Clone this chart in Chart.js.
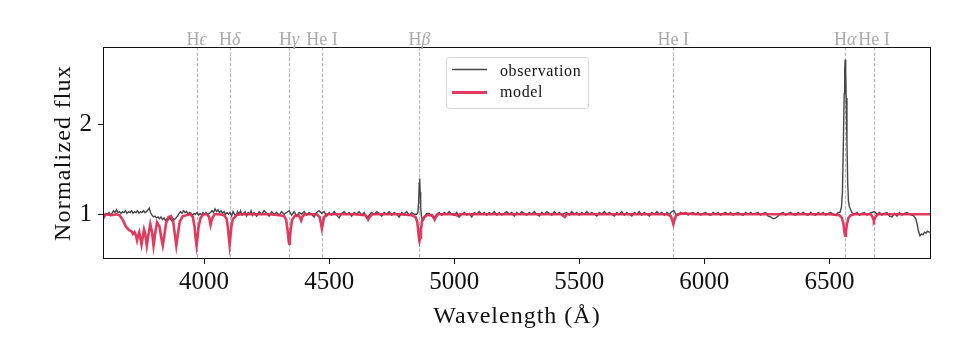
<!DOCTYPE html>
<html lang="en">
<head>
    <meta charset="UTF-8">
    <title>Spectrum with model</title>
    <script src="https://cdn.jsdelivr.net/npm/chart.js"></script>
    <style>
        body { margin: 0; background: #fff; }
        canvas { display: block; }
    </style>
</head>
<body>
    <canvas id="spectrum" width="960" height="360" style="width:960px;height:360px;"></canvas>

    <script>
        // wavelength (Å), normalized flux
        const observation = [
            [3596,1.00],[3602,0.98],[3608,1.01],[3614,1.00],[3620,1.02],[3626,0.99],[3632,1.01],[3638,1.04],[3644,1.02],[3650,1.05],
            [3656,1.02],[3662,1.03],[3668,1.01],[3674,1.03],[3680,1.02],[3686,1.04],[3692,1.01],[3698,1.03],
            [3704,1.02],[3710,1.04],[3716,1.01],[3722,1.03],[3728,1.02],[3734,1.04],[3740,1.01],[3746,1.03],[3752,1.02],[3758,1.04],
            [3764,1.02],[3770,1.03],[3776,1.05],[3781,1.07],[3786,1.02],[3792,0.99],[3798,0.97],
            [3804,0.98],[3810,0.96],[3816,0.97],[3822,0.95],[3828,0.97],[3834,0.94],[3840,0.96],[3846,0.93],[3852,0.95],[3858,0.94],
            [3864,0.96],[3870,0.93],[3876,0.95],[3882,0.94],[3888,0.96],[3894,0.98],
            [3900,1.01],[3906,1.03],[3912,1.01],[3918,1.04],[3924,1.02],[3930,1.03],[3936,1.00],[3942,1.02],[3948,1.01],[3954,0.99],
            [3960,1.01],[3966,1.00],[3972,1.02],[3978,0.99],[3984,1.01],[3990,0.99],[3996,1.02],
            [4002,1.00],[4008,1.02],[4014,0.99],[4020,1.01],[4026,1.02],[4032,1.04],[4038,1.02],[4044,1.06],[4050,1.03],[4056,1.05],
            [4062,1.02],[4068,1.04],[4074,1.01],[4080,1.03],[4086,1.00],[4092,1.02],[4098,1.00],
            [4104,1.02],[4110,0.98],[4116,1.03],[4122,1.00],[4128,0.98],[4134,1.03],[4140,1.00],[4146,1.04],[4152,0.99],[4158,1.01],
            [4164,1.03],[4170,0.98],[4176,1.02],[4182,1.00],[4188,1.04],[4194,0.99],
            [4200,1.02],[4210,0.98],[4220,1.03],[4230,1.00],[4240,1.04],[4250,1.01],[4260,0.98],[4270,1.03],[4280,1.00],[4290,1.02],
            [4300,0.99],[4310,1.03],[4320,1.00],[4330,1.02],[4340,1.04],[4350,0.99],[4360,1.03],[4370,0.98],[4380,1.02],[4390,1.00],
            [4400,1.03],[4410,0.99],[4420,1.02],[4430,1.00],[4440,0.97],[4450,1.02],[4460,1.04],[4470,1.01],[4480,1.03],[4490,0.98],
            [4500,1.02],[4510,0.99],[4520,1.03],[4530,0.99],[4540,0.96],[4550,1.01],[4560,1.03],[4570,1.00],[4580,1.02],[4590,0.98],
            [4600,1.02],[4610,1.00],[4620,1.03],[4630,0.99],[4640,1.02],[4650,0.96],[4660,0.99],[4670,1.02],[4680,1.00],[4690,1.03],
            [4700,1.01],[4710,0.98],[4720,1.02],[4730,1.00],[4740,1.03],[4750,0.99],[4760,1.02],[4770,1.00],[4780,0.97],[4790,1.02],
            [4800,1.00],[4810,1.03],[4820,0.99],[4830,1.02],[4840,1.00],[4850,1.00],[4855,1.02],[4858,1.15],[4860,1.35],[4862,1.40],
            [4864,1.25],[4866,1.08],[4869,0.98],[4873,0.93],[4878,0.94],[4884,0.98],[4890,1.01],
            [4900,1.01],[4910,0.98],[4920,0.96],[4930,1.00],[4940,1.02],[4950,0.99],[4960,1.02],[4970,1.00],[4980,1.03],[4990,1.00],
            [5000,0.99],[5010,1.02],[5020,0.97],[5030,1.00],[5040,1.02],[5050,0.99],[5060,1.01],[5070,0.97],[5080,1.02],[5090,1.00],
            [5100,1.03],[5110,1.00],[5120,1.02],[5130,0.99],[5140,1.02],[5150,1.00],[5160,1.03],[5170,0.99],[5180,1.02],[5190,0.99],
            [5200,1.01],[5210,1.03],[5220,1.00],[5230,1.02],[5240,0.98],[5250,1.02],[5260,1.00],[5270,1.03],[5280,1.01],[5290,0.99],
            [5300,1.02],[5310,1.00],[5320,1.03],[5330,1.00],[5340,0.98],[5350,1.02],[5360,1.00],[5370,1.03],[5380,1.01],[5390,0.99],
            [5400,1.03],[5410,1.00],[5420,1.02],[5430,0.99],[5440,1.01],[5450,1.02],[5460,0.99],[5470,1.03],[5480,1.00],[5490,1.02],
            [5500,0.99],[5510,1.02],[5520,1.00],[5530,1.03],[5540,1.00],[5550,1.02],[5560,1.00],[5570,0.98],[5580,1.02],[5590,1.00],
            [5600,1.03],[5610,1.00],[5620,1.02],[5630,1.00],[5640,0.98],[5650,1.02],[5660,1.00],[5670,1.03],[5680,0.99],[5690,1.02],
            [5700,1.00],[5710,0.98],[5720,1.02],[5730,1.00],[5740,1.03],[5750,0.99],[5760,1.02],[5770,1.00],[5780,0.98],[5790,1.02],
            [5800,1.00],[5810,1.03],[5820,1.00],[5830,1.02],[5840,0.99],[5850,1.02],[5860,1.00],[5870,1.03],[5878,1.04],[5886,1.00],
            [5895,0.99],[5905,1.02],[5915,1.00],[5925,1.02],[5935,0.99],[5945,1.01],[5955,1.02],[5965,1.00],[5975,1.02],[5985,0.99],
            [5995,1.01],[6005,1.02],[6015,1.00],[6025,0.99],[6035,1.02],[6045,1.00],[6055,1.02],[6065,0.99],[6075,1.01],[6085,1.02],
            [6095,1.00],[6105,1.02],[6115,0.99],[6125,1.01],[6135,1.02],[6145,1.00],[6155,0.99],[6165,1.02],[6175,1.00],[6185,1.02],
            [6195,1.00],[6205,1.01],[6215,1.02],[6225,0.99],[6235,1.01],[6245,1.02],[6255,0.98],[6265,0.97],[6275,0.95],[6285,0.96],
            [6295,0.98],[6305,1.01],[6315,1.02],[6325,0.99],[6335,1.01],[6345,1.02],[6355,1.00],[6365,0.99],[6375,1.02],[6385,1.00],
            [6395,1.02],[6405,1.00],[6415,0.99],[6425,1.02],[6435,1.00],[6445,0.99],[6455,1.02],[6465,1.00],[6475,1.02],[6485,0.99],
            [6495,1.01],[6505,1.02],[6515,1.00],[6525,0.99],[6535,1.02],[6542,1.02],[6548,1.08],[6552,1.25],[6556,1.85],[6559,2.35],
            [6561,2.62],[6563,2.73],[6565,2.60],[6567,2.30],[6570,1.80],[6573,1.35],[6576,1.15],[6580,1.08],[6585,1.05],[6590,1.02],
            [6600,1.00],[6610,1.02],[6620,0.99],[6630,1.01],[6640,1.02],[6650,0.99],[6660,1.01],[6670,1.02],[6680,1.03],[6690,1.00],
            [6700,1.02],[6710,0.99],[6720,1.01],[6730,1.02],[6740,0.98],[6750,0.97],[6760,1.01],[6770,0.98],[6780,1.02],[6790,0.99],
            [6800,1.01],[6810,1.02],[6820,1.00],[6830,0.99],[6838,0.98],[6845,0.95],[6850,0.90],[6856,0.81],[6862,0.76],[6868,0.78],
            [6874,0.77],[6880,0.80],[6886,0.79],[6892,0.81],[6898,0.80],[6905,0.80]
        ];

        const model = [
            [3596,0.99],[3600,0.97],[3606,1.00],[3630,0.99],[3650,1.00],[3662,0.99],[3670,0.96],[3678,0.92],[3686,0.87],[3694,0.84],
            [3702,0.82],[3710,0.81],[3716,0.78],[3722,0.80],[3728,0.76],[3732,0.71],[3736,0.76],[3741,0.80],[3746,0.72],[3750,0.66],
            [3754,0.73],[3760,0.83],[3765,0.78],[3771,0.65],[3777,0.76],[3785,0.89],[3792,0.80],[3798,0.65],[3804,0.78],[3812,0.91],
            [3822,0.86],[3830,0.72],[3835,0.65],[3840,0.74],[3848,0.90],[3858,0.97],[3868,0.98],[3876,0.93],[3883,0.78],[3889,0.65],
            [3895,0.77],[3903,0.92],[3915,0.98],[3930,0.99],[3945,1.00],[3955,0.97],[3962,0.86],[3966,0.74],[3970,0.65],[3974,0.74],
            [3978,0.86],[3986,0.96],[3998,1.00],[4012,1.00],[4020,0.97],[4026,0.88],[4032,0.95],[4042,1.00],[4060,1.00],[4080,0.99],
            [4090,0.95],[4095,0.86],[4099,0.74],[4102,0.66],[4105,0.74],[4109,0.86],[4115,0.95],[4121,0.96],[4128,0.99],[4145,1.00],
            [4200,1.00],[4260,1.00],[4300,0.99],[4320,0.98],[4328,0.94],[4334,0.82],[4337,0.73],[4340,0.67],[4343,0.73],[4346,0.82],
            [4352,0.94],[4362,0.98],[4378,0.99],[4384,0.96],[4388,0.93],[4393,0.97],[4402,1.00],[4450,1.00],[4462,0.97],[4467,0.90],
            [4471,0.84],[4475,0.90],[4480,0.97],[4492,1.00],[4600,1.00],[4645,0.99],[4652,0.96],[4656,0.94],[4662,0.97],[4672,1.00],
            [4780,1.00],[4830,0.99],[4845,0.97],[4852,0.92],[4856,0.82],[4859,0.73],[4861,0.70],[4864,0.74],[4867,0.83],[4872,0.93],
            [4880,0.97],[4892,0.99],[4912,0.99],[4918,0.96],[4922,0.94],[4927,0.97],[4935,1.00],[5000,1.00],[5010,0.99],[5016,0.98],
            [5022,1.00],[5430,1.00],[5436,0.98],[5442,0.97],[5450,1.00],[5850,1.00],[5866,0.98],[5872,0.93],[5876,0.89],[5880,0.93],
            [5886,0.98],[5895,1.00],[5920,1.01],[5960,1.00],[6500,1.00],[6540,0.99],[6550,0.96],[6556,0.89],[6560,0.80],[6563,0.76],
            [6566,0.80],[6570,0.89],[6576,0.96],[6586,0.99],[6600,1.00],[6665,1.00],[6672,0.97],[6676,0.94],[6678,0.93],[6681,0.95],
            [6686,0.98],[6695,1.00],[6905,1.00]
        ];

        const lineWaves = [3970, 4102, 4340, 4471, 4861, 5876, 6563, 6678];
        const lineNames = ['Hϵ', 'Hδ', 'Hγ', 'He I', 'Hβ', 'He I', 'Hα', 'He I'];

        const xTicks = [4000, 4500, 5000, 5500, 6000, 6500];
        const yTicks = [1, 2];

        const serif = "'Liberation Serif', 'DejaVu Serif', serif";
        const obsColor = '#474747';
        const modelColor = 'rgba(224, 42, 82, 0.92)';

        const toPoints = arr => arr.map(p => ({ x: p[0], y: p[1] }));

        // dashed line markers, labels, frame, legend and axis titles
        const overlay = {
            id: 'overlay',
            beforeDatasetsDraw(chart) {
                const { ctx, chartArea, scales } = chart;
                ctx.save();
                ctx.strokeStyle = '#b8b8b8';
                ctx.lineWidth = 1;
                ctx.setLineDash([3.7, 1.6]);
                lineWaves.forEach(w => {
                    const x = Math.round(scales.x.getPixelForValue(w)) + 0.5;
                    ctx.beginPath();
                    ctx.moveTo(x, chartArea.top);
                    ctx.lineTo(x, chartArea.bottom);
                    ctx.stroke();
                });
                ctx.restore();
            },
            afterDraw(chart) {
                const { ctx, chartArea, scales } = chart;
                const { left, right, top, bottom } = chartArea;
                ctx.save();

                // frame
                ctx.strokeStyle = '#111';
                ctx.lineWidth = 1;
                ctx.strokeRect(Math.round(left) + 0.5, Math.round(top) + 0.5,
                    Math.round(right - left) - 1, Math.round(bottom - top) - 1);

                // line labels above the plot
                ctx.fillStyle = '#aaaaaa';
                ctx.textBaseline = 'alphabetic';
                ctx.textAlign = 'left';
                ctx.letterSpacing = '0px';
                lineWaves.forEach((w, i) => {
                    const name = lineNames[i];
                    const x = scales.x.getPixelForValue(w);
                    let head = name, tail = '';
                    if (!name.startsWith('He')) { head = 'H'; tail = name.slice(1); }
                    ctx.font = `18px ${serif}`;
                    const wHead = ctx.measureText(head).width;
                    ctx.font = `italic 18px ${serif}`;
                    const wTail = tail ? ctx.measureText(tail).width : 0;
                    const x0 = x - (wHead + wTail) / 2;
                    ctx.font = `18px ${serif}`;
                    ctx.fillText(head, x0, 45);
                    if (tail) {
                        ctx.font = `italic 18px ${serif}`;
                        ctx.fillText(tail, x0 + wHead, 45);
                    }
                });

                // legend
                const lx = 446, ly = 57, lw = 142, lh = 51;
                ctx.beginPath();
                ctx.roundRect(lx + 0.5, ly + 0.5, lw, lh, 3);
                ctx.fillStyle = 'rgba(255,255,255,0.85)';
                ctx.fill();
                ctx.strokeStyle = '#d6d6d6';
                ctx.stroke();

                ctx.lineCap = 'butt';
                ctx.strokeStyle = obsColor;
                ctx.lineWidth = 1.5;
                ctx.beginPath();
                ctx.moveTo(452, 69.5);
                ctx.lineTo(487, 69.5);
                ctx.stroke();
                ctx.strokeStyle = modelColor;
                ctx.lineWidth = 2.8;
                ctx.beginPath();
                ctx.moveTo(452, 92.5);
                ctx.lineTo(487, 92.5);
                ctx.stroke();

                ctx.fillStyle = '#111';
                ctx.font = `16px ${serif}`;
                ctx.letterSpacing = '0.6px';
                ctx.fillText('observation', 500, 76);
                ctx.fillText('model', 500, 97);

                // axis titles
                ctx.font = `24px ${serif}`;
                ctx.letterSpacing = '1px';
                ctx.textAlign = 'center';
                ctx.fillText('Wavelength (Å)', (left + right) / 2, 323);

                ctx.letterSpacing = '1.2px';
                ctx.translate(70, (top + bottom) / 2);
                ctx.rotate(-Math.PI / 2);
                ctx.fillText('Normalized flux', 0, 0);
                ctx.restore();
            }
        };

        const ctx = document.getElementById('spectrum').getContext('2d');
        const spectrumChart = new Chart(ctx, {
            type: 'line',
            data: {
                datasets: [
                    {
                        label: 'model',
                        data: toPoints(model),
                        borderColor: modelColor,
                        borderWidth: 2.6,
                        order: 0
                    },
                    {
                        label: 'observation',
                        data: toPoints(observation),
                        borderColor: obsColor,
                        borderWidth: 1.4,
                        order: 1
                    }
                ]
            },
            options: {
                responsive: false,
                animation: false,
                devicePixelRatio: 1,
                layout: { padding: { top: 47, right: 29, left: 0, bottom: 0 } },
                elements: { point: { radius: 0 }, line: { tension: 0 } },
                plugins: {
                    legend: { display: false },
                    tooltip: { enabled: false }
                },
                scales: {
                    x: {
                        type: 'linear',
                        min: 3596,
                        max: 6906,
                        afterBuildTicks: scale => { scale.ticks = xTicks.map(v => ({ value: v })); },
                        afterFit: scale => { scale.height = 101; },
                        border: { display: false },
                        grid: { display: true, drawOnChartArea: false, drawTicks: true, tickLength: 5, color: '#111' },
                        ticks: {
                            font: { family: serif, size: 25 },
                            color: '#111',
                            padding: 3,
                            maxRotation: 0,
                            autoSkip: false,
                            callback: v => String(v)
                        }
                    },
                    y: {
                        min: 0.5,
                        max: 2.87,
                        afterBuildTicks: scale => { scale.ticks = yTicks.map(v => ({ value: v })); },
                        afterFit: scale => { scale.width = 103; },
                        border: { display: false },
                        grid: { display: true, drawOnChartArea: false, drawTicks: true, tickLength: 5, color: '#111' },
                        ticks: {
                            font: { family: serif, size: 25 },
                            color: '#111',
                            padding: 6,
                            autoSkip: false,
                            callback: v => String(v)
                        }
                    }
                }
            },
            plugins: [overlay]
        });
    </script>
</body>
</html>
